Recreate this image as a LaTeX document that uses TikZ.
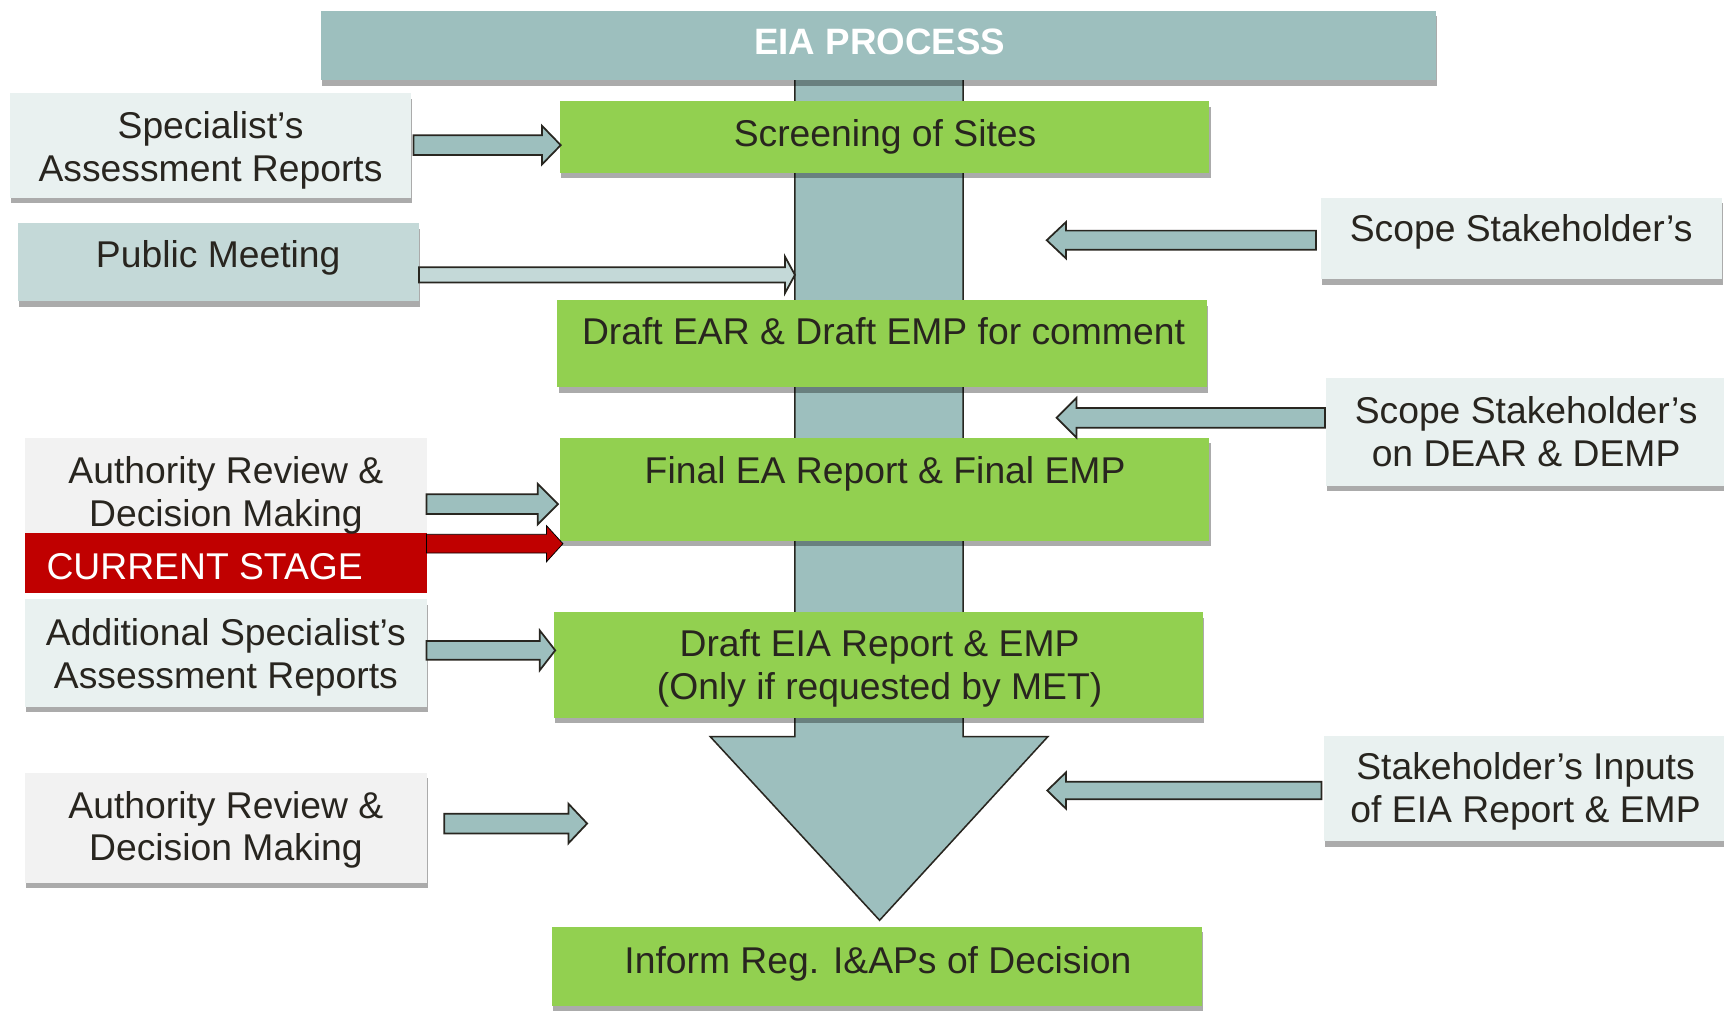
\documentclass[tikz,border=0pt]{standalone}
\usepackage{fontspec}
\setmainfont{Liberation Sans}
\usetikzlibrary{fit}
\definecolor{greenc}{RGB}{146,208,80}
\definecolor{tealc}{RGB}{157,191,190}
\definecolor{publicc}{RGB}{196,217,216}
\definecolor{lighttealc}{RGB}{233,241,240}
\definecolor{lightgrayc}{RGB}{242,242,242}
\definecolor{redc}{RGB}{192,0,0}
\definecolor{textc}{RGB}{40,37,31}
\definecolor{linec}{RGB}{40,38,32}
\newcommand\twol[2]{\begin{tabular}[t]{@{}c@{}}#1\\#2\end{tabular}}
% name, fill, x1, y1, x2, y2 (with shadow)
\newcommand\mybox[6]{%
  \fill[black,opacity=.33] ({#3+1},{#4+5}) rectangle ({#5+1},{#6+5});
  \node[fit={(#3,#4) (#5,#6)}, inner sep=0pt, outer sep=0pt, fill=#2] (#1) {};}
% name, fill, x1, y1, x2, y2 (no shadow)
\newcommand\myflatbox[6]{%
  \node[fit={(#3,#4) (#5,#6)}, inner sep=0pt, outer sep=0pt, fill=#2] (#1) {};}
% style, tail x, head-start x, tip x, y, shaft half, head half
\newcommand\harrow[7]{%
  \draw[#1] (#2,{#5-#6}) -- (#3,{#5-#6}) -- (#3,{#5-#7}) -- (#4,#5) -- (#3,{#5+#7}) -- (#3,{#5+#6}) -- (#2,{#5+#6}) -- cycle;}
\tikzset{
  txt/.style={font=\fontsize{19.3}{22.2}\selectfont, text=textc, inner sep=0pt, anchor=base},
  blockarrow/.style={fill=tealc, draw=linec, line width=0.9pt, line join=miter},
  pubarrow/.style={fill=publicc, draw=linec, line width=0.9pt, line join=miter},
  redarrow/.style={fill=redc},
  shaft/.style={fill=tealc, draw=linec, line width=0.8pt, line join=miter}
}
\begin{document}
\begin{tikzpicture}[x=0.02cm,y=-0.02cm]
\useasboundingbox (0,0) rectangle (1568,919);
\fill[white] (0,0) rectangle (1568,919);
% main process arrow
\draw[shaft] (723,60) -- (723,670) -- (646,670) -- (800,837) -- (953,670) -- (876,670) -- (876,60);
\fill[tealc] (724,60) rectangle (875,70);
% title
\mybox{title}{tealc}{292}{10}{1306}{73}
% green process boxes
\mybox{screen}{greenc}{509}{92}{1100}{157}
\mybox{dear}{greenc}{507}{273}{1098}{352}
\mybox{final}{greenc}{509}{398}{1100}{492}
\mybox{deia}{greenc}{504}{557}{1094}{653}
\mybox{inform}{greenc}{502}{843}{1093}{915}
% left boxes
\mybox{spec}{lighttealc}{9}{85}{374}{180}
\mybox{public}{publicc}{16}{203}{381}{274}
\myflatbox{auth}{lightgrayc}{23}{398}{388}{485}
\myflatbox{current}{redc}{23}{485}{388}{539}
\mybox{addl}{lighttealc}{23}{545}{388}{643}
\mybox{authb}{lightgrayc}{23}{703}{388}{803}
% right boxes
\mybox{scopea}{lighttealc}{1201}{180}{1566}{254}
\mybox{scopeb}{lighttealc}{1206}{344}{1568}{442}
\mybox{stake}{lighttealc}{1204}{669}{1568}{765}
% block arrows
\harrow{blockarrow}{376}{493}{510}{132}{9}{17.5}
\harrow{pubarrow}{381}{714}{723}{250}{7}{16.5}
\harrow{blockarrow}{1197}{969.5}{952}{218.5}{8.75}{16.5}
\harrow{blockarrow}{1205}{979}{961}{380}{9}{18}
\harrow{blockarrow}{388}{489}{507.5}{458.5}{9}{18.5}
\harrow{redarrow}{388}{497}{512}{494.5}{8.5}{16.5}
\harrow{blockarrow}{388}{491}{505}{591.5}{8.5}{18}
\harrow{blockarrow}{404}{517}{534}{749}{9}{18}
\harrow{blockarrow}{1202}{969.5}{952.5}{719}{8}{16.5}
% texts
\node[txt, text=white, font=\fontsize{19}{22.2}\selectfont\bfseries] (t-title) at (800,50) {EIA PROCESS};
\node[txt] (t-screen) at (805,133) {Screening of Sites};
\node[txt] (t-dear) at (803.5,313) {Draft EAR \& Draft EMP for comment};
\node[txt] (t-final) at (805,440) {Final EA Report \& Final EMP};
\node[txt] (t-deia) at (800,597) {\twol{Draft EIA Report \& EMP}{(Only if requested by MET)}};
\node[txt] (t-inform) at (798.5,885) {Inform Reg. I\&APs of Decision};
\node[txt] (t-spec) at (191.5,126) {\twol{Specialist’s}{Assessment Reports}};
\node[txt] (t-public) at (198.5,243) {Public Meeting};
\node[txt] (t-auth) at (205.5,440) {\twol{Authority Review \&}{Decision Making}};
\node[txt, text=white, anchor=base west] (t-current) at (42,527) {CURRENT STAGE};
\node[txt] (t-addl) at (205.5,587) {\twol{Additional Specialist’s}{Assessment Reports}};
\node[txt] (t-authb) at (205.5,744) {\twol{Authority Review \&}{Decision Making}};
\node[txt] (t-scopea) at (1383.5,220) {Scope Stakeholder’s};
\node[txt] (t-scopeb) at (1388,385) {\twol{Scope Stakeholder’s}{on DEAR \& DEMP}};
\node[txt] (t-stake) at (1387.5,709) {\twol{Stakeholder’s Inputs}{of EIA Report \& EMP}};
\end{tikzpicture}
\end{document}
